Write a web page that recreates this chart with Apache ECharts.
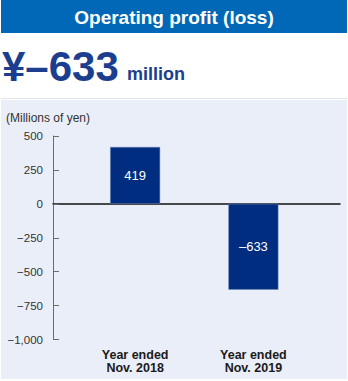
<!DOCTYPE html>
<html>
<head>
<meta charset="utf-8">
<script src="https://cdn.jsdelivr.net/npm/echarts@6/dist/echarts.min.js"></script>
<style>
html,body{margin:0;padding:0;background:#fff;}
#c{width:348px;height:381px;}
</style>
</head>
<body>
<div id="c"></div>
<script>
const categories = ['Year ended\nNov. 2018', 'Year ended\nNov. 2019'];
const values = [419, -633];
const yTicks = { min: -1000, max: 500, interval: 250 };
const titleText = 'Operating profit (loss)';
const headlineValue = '¥–633';
const headlineUnit = 'million';
const unitLabel = '(Millions of yen)';

const FONT = '"Liberation Sans", Arial, Helvetica, sans-serif';
const NARROW = '"Liberation Sans Narrow", "Liberation Sans", Arial, sans-serif';
const NAVY = '#002d7f';

function fmtY(v) {
  const s = Math.abs(v).toLocaleString('en-US');
  return v < 0 ? '\u2212' + s : s;
}
function fmtBar(v) {
  return v < 0 ? '\u2013' + Math.abs(v) : String(v);
}

const chart = echarts.init(document.getElementById('c'), null, { renderer: 'svg' });
chart.setOption({
  animation: false,
  backgroundColor: '#ffffff',
  graphic: [
    { type: 'rect', z: -10, shape: { x: 1, y: 0, width: 346, height: 33 }, style: { fill: '#0068b7' } },
    { type: 'text', z: 10, style: { x: 174, y: 17, text: titleText, fill: '#ffffff', font: 'bold 19px ' + FONT, align: 'center', verticalAlign: 'middle' } },
    { type: 'text', z: 10, style: { x: 2, y: 66, text: headlineValue, fill: '#1b3f8e', font: 'bold 42px ' + FONT, align: 'left', verticalAlign: 'middle' } },
    { type: 'text', z: 10, style: { x: 127, y: 74, text: headlineUnit, fill: '#1b3f8e', font: 'bold 18px ' + FONT, align: 'left', verticalAlign: 'middle' } },
    { type: 'rect', z: -10, shape: { x: 1, y: 98, width: 346, height: 1 }, style: { fill: '#dfe3ec' } },
    { type: 'rect', z: -10, shape: { x: 1, y: 100, width: 346, height: 279 }, style: { fill: '#eaeef8' } },
    { type: 'text', z: 10, style: { x: 6, y: 118, text: unitLabel, fill: '#333333', font: '12px ' + FONT, align: 'left', verticalAlign: 'middle' } }
  ],
  grid: [
    { left: 53, right: 8, top: 136, bottom: 41.5 },
    { left: 76, right: 35.5, top: 136, bottom: 41.5 }
  ],
  xAxis: [
    {
      gridIndex: 0, type: 'category', data: categories,
      axisLine: { show: true, onZero: true, lineStyle: { color: '#111111', width: 1.5 } },
      axisTick: { show: false }, axisLabel: { show: false }, splitLine: { show: false }
    },
    {
      gridIndex: 1, type: 'category', data: categories, position: 'bottom',
      axisLine: { show: false, onZero: false }, axisTick: { show: false },
      axisLabel: { show: true, margin: 9, color: '#1a1a1a', fontFamily: FONT, fontWeight: 'bold', fontSize: 12.5, lineHeight: 13, align: 'center' },
      splitLine: { show: false }
    }
  ],
  yAxis: [
    {
      gridIndex: 0, type: 'value', min: yTicks.min, max: yTicks.max, interval: yTicks.interval,
      axisLine: { show: true, lineStyle: { color: '#6b6b6b', width: 1 } },
      axisTick: { show: true, inside: true, length: 6, lineStyle: { color: '#6b6b6b', width: 1 } },
      axisLabel: { show: true, margin: 10, color: '#333333', fontFamily: FONT, fontSize: 11.5, formatter: fmtY },
      splitLine: { show: false }
    },
    {
      gridIndex: 1, type: 'value', min: yTicks.min, max: yTicks.max, interval: yTicks.interval,
      axisLine: { show: false }, axisTick: { show: false }, axisLabel: { show: false }, splitLine: { show: false }
    }
  ],
  series: [
    {
      type: 'bar', xAxisIndex: 1, yAxisIndex: 1, data: values, barWidth: 50, z: 1,
      itemStyle: { color: NAVY, borderColor: '#6f86b8', borderWidth: 0.5 },
      label: { show: true, position: 'inside', color: '#ffffff', fontFamily: NARROW, fontSize: 13, formatter: p => fmtBar(p.value) }
    }
  ]
});
</script>
</body>
</html>
